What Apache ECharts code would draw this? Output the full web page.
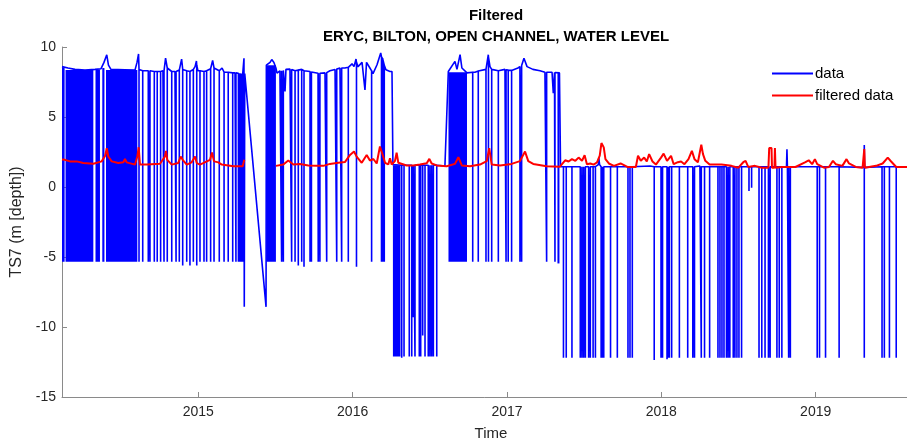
<!DOCTYPE html>
<html>
<head>
<meta charset="utf-8">
<script src="https://cdn.jsdelivr.net/npm/echarts@6/dist/echarts.min.js"></script>
<style>
  html, body { margin: 0; padding: 0; background: #fff; overflow: hidden; }
  #chart { width: 907px; height: 443px; }
</style>
</head>
<body>
<div id="chart"></div>
<script>
// Time is stored as decimal years.
const yearTicks = [2015, 2016, 2017, 2018, 2019];

// "data" series: the recorded water level (piecewise path between readings)
const levelT = [
  2014.117, 2014.156, 2014.201, 2014.266, 2014.331, 2014.370, 2014.389, 2014.407, 2014.418, 2014.434,
  2014.525, 2014.590, 2014.603, 2014.613, 2014.622, 2014.655, 2014.719, 2014.771, 2014.788, 2014.800,
  2014.849, 2014.881, 2014.892, 2014.904, 2014.946, 2014.979, 2014.988, 2014.998, 2015.043, 2015.082,
  2015.093, 2015.105, 2015.141, 2015.154, 2015.173, 2015.238, 2015.290, 2015.296, 2015.298, 2015.301,
  2015.439, 2015.441, 2015.465, 2015.476, 2015.490, 2015.503, 2015.510, 2015.529, 2015.555, 2015.562,
  2015.568, 2015.594, 2015.627, 2015.659, 2015.691, 2015.724, 2015.776, 2015.821, 2015.853, 2015.886,
  2015.918, 2015.950, 2015.983, 2015.996, 2016.009, 2016.022, 2016.035, 2016.061, 2016.080, 2016.090,
  2016.112, 2016.132, 2016.158, 2016.182, 2016.197, 2016.216, 2016.242, 2016.255, 2016.261, 2016.436,
  2016.598, 2016.620, 2016.663, 2016.676, 2016.696, 2016.708, 2016.741, 2016.793, 2016.825, 2016.864,
  2016.879, 2016.890, 2016.909, 2016.955, 2016.987, 2017.019, 2017.071, 2017.097, 2017.110, 2017.130,
  2017.168, 2017.214, 2017.246, 2017.292, 2017.300, 2017.308, 2017.340, 2017.347, 2017.592, 2017.595,
  2017.600, 2017.927, 2018.250, 2018.811, 2018.814, 2018.817, 2019.313, 2019.315, 2019.317, 2019.592
];
const levelV = [
  8.6, 8.5, 8.4, 8.35, 8.4, 8.45, 8.9, 9.44, 8.7, 8.4,
  8.38, 8.35, 8.9, 9.5, 8.5, 8.3, 8.25, 8.3, 9.2, 8.5,
  8.25, 8.4, 9.14, 8.4, 8.25, 8.6, 9.0, 8.3, 8.25, 8.5,
  9.04, 8.4, 8.3, 8.5, 8.2, 8.15, 8.1, 9.2, -8.56, 8.1,
  -8.56, 8.7, 8.9, 9.1, 8.9, 8.5, 8.13, 8.3, 8.35, 6.82,
  8.4, 8.42, 8.3, 8.4, 8.3, 8.25, 8.13, 8.15, 8.3, 8.4,
  8.5, 8.5, 8.6, 8.8, 8.6, 9.14, 8.6, 8.9, 6.94, 8.9,
  8.5, 8.1, 8.73, 9.57, 9.1, 8.37, 8.25, 8.25, 1.6, 1.55,
  1.5, 8.25, 8.97, 8.4, 9.45, 8.5, 8.15, 8.2, 8.3, 8.4,
  9.45, 8.6, 8.3, 8.3, 8.4, 8.3, 8.5, 8.7, 9.2, 8.6,
  8.4, 8.3, 8.2, 8.2, 6.7, 8.18, 8.15, 1.45, 1.6, 2.1,
  1.6, 1.5, 1.5, 1.45, 2.7, 1.45, 1.4, 3.0, 1.4, 1.45
];

// Single-sample drop-outs in the record: time, lowest reading, level around it
const dropT = [
  2014.616, 2014.640, 2014.676, 2014.687, 2014.715, 2014.734, 2014.756, 2014.778, 2014.799, 2014.828,
  2014.856, 2014.877, 2014.899, 2014.925, 2014.946, 2014.968, 2014.990, 2015.011, 2015.037, 2015.054,
  2015.080, 2015.102, 2015.136, 2015.167, 2015.194, 2015.223, 2015.244, 2015.260, 2015.270, 2015.280,
  2015.288,
  2015.540, 2015.551, 2015.605, 2015.627, 2015.648, 2015.670, 2015.685, 2015.724, 2015.733, 2015.777,
  2015.788, 2015.832, 2015.897, 2015.929, 2015.972, 2016.025, 2016.123, 2016.187, 2016.195, 2016.205,
  2016.318, 2016.333, 2016.367, 2016.383, 2016.393, 2016.404, 2016.432, 2016.441, 2016.454, 2016.469,
  2016.490, 2016.501, 2016.512, 2016.523, 2016.545,
  2016.778, 2016.814, 2016.864, 2016.880, 2016.901, 2016.944, 2016.994, 2017.008, 2017.030, 2017.084,
  2017.095, 2017.257, 2017.311,
  2017.366, 2017.384, 2017.421, 2017.475, 2017.486, 2017.497, 2017.508, 2017.529, 2017.540, 2017.558,
  2017.573, 2017.610, 2017.617, 2017.627, 2017.671, 2017.715, 2017.784, 2017.797, 2017.812, 2017.954,
  2017.998, 2018.008, 2018.037, 2018.044, 2018.052, 2018.067, 2018.117, 2018.171, 2018.204, 2018.215,
  2018.259, 2018.280, 2018.313, 2018.367, 2018.380, 2018.393, 2018.406, 2018.422, 2018.433, 2018.444,
  2018.466, 2018.477, 2018.490, 2018.503, 2018.520, 2018.568, 2018.585, 2018.633, 2018.651, 2018.672,
  2018.694, 2018.705, 2018.749, 2018.764, 2018.781, 2018.825, 2018.836, 2019.010, 2019.025, 2019.064,
  2019.152, 2019.315, 2019.430, 2019.445, 2019.478, 2019.522
];
const dropLow = [
  -5.34, -5.34, -5.34, -5.34, -5.34, -5.34, -5.34, -5.34, -5.34, -5.34,
  -5.34, -5.34, -5.6, -5.34, -5.6, -5.34, -5.6, -5.34, -5.34, -5.34,
  -5.34, -5.34, -5.34, -5.34, -5.34, -5.34, -5.34, -5.34, -5.34, -5.34,
  -5.34,
  -5.34, -5.34, -5.34, -5.34, -5.6, -5.34, -5.7, -5.34, -5.34, -5.34,
  -5.34, -5.34, -5.34, -5.34, -5.34, -5.7, -5.34, -5.34, -5.34, -5.34,
  -12.2, -12.1, -12.1, -12.1, -9.3, -12.1, -12.1, -12.1, -10.6, -12.1,
  -12.1, -12.1, -12.1, -12.1, -12.1,
  -5.34, -5.34, -5.34, -5.34, -5.34, -5.34, -5.34, -5.34, -5.34, -5.34,
  -5.34, -5.34, -5.34,
  -12.2, -12.2, -12.2, -12.2, -12.2, -12.2, -12.2, -12.2, -12.2, -12.2,
  -12.2, -12.2, -12.2, -12.2, -12.2, -12.2, -12.2, -12.2, -12.2, -12.35,
  -12.2, -12.2, -12.3, -12.2, -12.2, -12.2, -12.2, -12.2, -12.2, -12.2,
  -12.2, -12.2, -12.2, -12.2, -12.2, -12.2, -12.2, -12.2, -12.2, -12.2,
  -12.2, -12.2, -12.2, -12.2, -12.2, -0.28, -0.05, -12.2, -12.2, -12.2,
  -12.2, -12.2, -12.2, -12.2, -12.2, -12.2, -12.2, -12.2, -12.2, -12.2,
  -12.2, -12.2, -12.2, -12.2, -12.2, -12.2
];
const dropTop = [
  8.4, 8.3, 8.3, 8.3, 8.25, 8.25, 8.25, 8.3, 8.5, 8.25,
  8.25, 8.35, 8.4, 8.3, 8.25, 8.4, 8.7, 8.3, 8.25, 8.3,
  8.45, 8.5, 8.3, 8.2, 8.2, 8.15, 8.15, 8.13, 8.12, 8.1,
  8.1,
  8.3, 8.33, 8.4, 8.3, 8.35, 8.4, 8.3, 8.25, 8.22, 8.13,
  8.13, 8.17, 8.42, 8.5, 8.55, 8.9, 8.3, 9.3, 9.15, 8.7,
  1.55, 1.55, 1.55, 1.55, 1.55, 1.55, 1.55, 1.55, 1.55, 1.55,
  1.55, 1.55, 1.55, 1.55, 1.55,
  8.2, 8.28, 8.4, 9.3, 8.4, 8.3, 8.38, 8.35, 8.33, 8.6,
  8.68, 8.2, 8.18,
  1.45, 1.45, 1.45, 1.45, 1.45, 1.45, 1.45, 1.45, 1.45, 1.45,
  1.45, 1.45, 1.45, 1.45, 1.45, 1.45, 1.45, 1.45, 1.45, 1.45,
  1.45, 1.45, 1.45, 1.45, 1.45, 1.45, 1.45, 1.45, 1.45, 1.45,
  1.45, 1.45, 1.45, 1.45, 1.45, 1.45, 1.45, 1.45, 1.45, 1.45,
  1.45, 1.45, 1.45, 1.45, 1.45, 1.45, 1.45, 1.45, 1.45, 1.45,
  1.45, 1.45, 1.45, 1.45, 1.45, 1.45, 1.45, 1.45, 1.45, 1.45,
  1.45, 3.0, 1.45, 1.45, 1.45, 1.45
];

// Periods where the reading flips continuously between level and drop-out
const burstStart = [2014.117, 2014.140, 2014.334, 2014.378, 2014.402, 2015.441, 2016.261, 2016.621, 2017.327];
const burstEnd   = [2014.134, 2014.320, 2014.363, 2014.392, 2014.605, 2015.503, 2016.310, 2016.741, 2017.340];
const burstTop   = [8.55, 8.35, 8.4, 8.5, 8.35, 8.7, 1.55, 8.2, 8.15];
const burstLow   = [-5.34, -5.34, -5.34, -5.34, -5.34, -5.34, -12.1, -5.34, -5.46];

// "filtered data" series (null marks the gap in the record)
const filtT = [
  2014.117, 2014.136, 2014.169, 2014.212, 2014.255, 2014.320, 2014.374, 2014.396, 2014.407, 2014.417,
  2014.439, 2014.482, 2014.514, 2014.525, 2014.536, 2014.590, 2014.605, 2014.614, 2014.622, 2014.666,
  2014.752, 2014.784, 2014.791, 2014.799, 2014.828, 2014.870, 2014.886, 2014.899, 2014.925, 2014.957,
  2014.979, 2014.990, 2015.011, 2015.076, 2015.089, 2015.102, 2015.130, 2015.152, 2015.227, 2015.288,
  2015.298, 2015.400,
  2015.503, 2015.551, 2015.583, 2015.616, 2015.659, 2015.713, 2015.767, 2015.810, 2015.853, 2015.907,
  2015.950, 2015.983, 2016.009, 2016.026, 2016.059, 2016.091, 2016.112, 2016.134, 2016.156, 2016.177,
  2016.195, 2016.210, 2016.231, 2016.242, 2016.253, 2016.274, 2016.285, 2016.296, 2016.307, 2016.350,
  2016.393, 2016.436, 2016.480, 2016.497, 2016.512, 2016.545, 2016.609, 2016.663, 2016.685, 2016.696,
  2016.707, 2016.760, 2016.825, 2016.869, 2016.885, 2016.901, 2016.955, 2017.030, 2017.084, 2017.117,
  2017.138, 2017.170, 2017.257, 2017.343, 2017.377, 2017.399, 2017.421, 2017.443, 2017.464, 2017.486,
  2017.503, 2017.518, 2017.540, 2017.562, 2017.584, 2017.601, 2017.612, 2017.627, 2017.638, 2017.660,
  2017.693, 2017.736, 2017.780, 2017.835, 2017.849, 2017.867, 2017.889, 2017.906, 2017.921, 2017.943,
  2017.965, 2017.998, 2018.015, 2018.037, 2018.063, 2018.080, 2018.107, 2018.128, 2018.150, 2018.176,
  2018.198, 2018.215, 2018.237, 2018.259, 2018.270, 2018.285, 2018.313, 2018.390, 2018.455, 2018.499,
  2018.531, 2018.546, 2018.563, 2018.607, 2018.651, 2018.694, 2018.699, 2018.714, 2018.717, 2018.733,
  2018.736, 2018.740, 2018.781, 2018.869, 2018.934, 2018.955, 2018.977, 2018.995, 2019.010, 2019.054,
  2019.086, 2019.112, 2019.130, 2019.173, 2019.200, 2019.216, 2019.260, 2019.304, 2019.315, 2019.319,
  2019.391, 2019.434, 2019.467, 2019.489, 2019.522, 2019.592
];
const filtV = [
  1.97, 1.94, 1.83, 1.83, 1.71, 1.66, 1.83, 2.22, 2.77, 2.18,
  1.83, 1.71, 1.76, 2.0, 1.76, 1.6, 2.18, 2.84, 1.6, 1.6,
  1.66, 2.18, 2.58, 1.94, 1.6, 1.71, 2.18, 1.94, 1.6, 1.76,
  2.18, 1.71, 1.6, 1.94, 2.46, 1.83, 1.76, 1.6, 1.49, 1.49,
  1.94, null,
  1.51, 1.61, 1.89, 1.61, 1.65, 1.54, 1.51, 1.51, 1.65, 1.73,
  1.78, 2.29, 2.53, 2.17, 1.73, 2.29, 1.89, 2.0, 1.68, 2.89,
  2.29, 1.73, 1.61, 2.05, 1.6, 1.85, 2.45, 1.73, 1.61, 1.54,
  1.54, 1.6, 1.7, 2.01, 1.68, 1.54, 1.48, 1.65, 2.13, 2.25,
  1.54, 1.48, 1.6, 1.85, 2.77, 1.6, 1.54, 1.65, 1.85, 2.53,
  1.85, 1.65, 1.48, 1.45, 1.91, 1.82, 1.99, 1.87, 2.1, 1.87,
  2.27, 1.63, 1.68, 1.6, 1.77, 2.24, 3.14, 2.83, 1.99, 1.68,
  1.51, 1.68, 1.43, 1.43, 2.23, 1.87, 2.1, 1.82, 2.35, 1.82,
  1.6, 2.1, 2.38, 1.87, 2.23, 1.63, 1.77, 1.82, 1.63, 1.99,
  2.58, 1.99, 1.77, 3.02, 2.35, 1.87, 1.6, 1.6, 1.51, 1.38,
  1.77, 1.87, 1.43, 1.51, 1.38, 1.38, 2.78, 2.78, 1.38, 1.38,
  2.78, 1.38, 1.43, 1.43, 1.77, 1.91, 1.63, 1.99, 1.63, 1.38,
  1.43, 1.87, 1.63, 1.51, 1.99, 1.68, 1.43, 1.38, 2.71, 1.38,
  1.51, 1.68, 2.1, 1.82, 1.43, 1.43
];

// Build the raw-data line: level path plus a vertical excursion for each drop-out
const rawPoints = [];
levelT.forEach((t, i) => rawPoints.push([t, levelV[i]]));
dropT.forEach((t, i) => {
  rawPoints.push([t, dropTop[i]], [t, dropLow[i]], [t, dropTop[i]]);
});
rawPoints.sort((a, b) => a[0] - b[0]);

const burstData = burstStart.map((t, i) => [t, burstEnd[i], burstTop[i], burstLow[i]]);
const filtData = filtT.map((t, i) => [t, filtV[i]]);

const FONT = '"Liberation Sans", Arial, Helvetica, sans-serif';
const BLUE = '#0000ff';
const RED = '#ff0000';
const chart = echarts.init(document.getElementById('chart'), null, { renderer: 'canvas' });

chart.setOption({
  animation: false,
  backgroundColor: '#ffffff',
  title: {
    text: 'Filtered',
    subtext: 'ERYC, BILTON, OPEN CHANNEL, WATER LEVEL',
    left: 491,
    textAlign: 'center',
    top: 3,
    itemGap: 6,
    textStyle: { fontFamily: FONT, fontSize: 15, fontWeight: 'bold', color: '#000' },
    subtextStyle: { fontFamily: FONT, fontSize: 15, fontWeight: 'bold', color: '#000' }
  },
  legend: {
    orient: 'vertical',
    left: 767,
    top: 60,
    itemWidth: 41,
    itemHeight: 2,
    itemGap: 5,
    icon: 'rect',
    data: [
      { name: 'data', itemStyle: { color: BLUE } },
      { name: 'filtered data', itemStyle: { color: RED } }
    ],
    textStyle: { fontFamily: FONT, fontSize: 15, color: '#000', padding: [0, 0, 0, -3], lineHeight: 17 }
  },
  // the axes box runs a little past the right edge of the page
  grid: { left: 62, right: -13, top: 47, bottom: 46, containLabel: false, outerBoundsMode: 'none' },
  xAxis: {
    type: 'value',
    min: 2014.117,
    max: 2019.676,
    name: 'Time',
    nameLocation: 'middle',
    nameGap: 29,
    nameTextStyle: { fontFamily: FONT, fontSize: 15, color: '#262626' },
    axisLine: { show: true, onZero: false, lineStyle: { color: '#8a8a8a', width: 1 } },
    axisTick: { show: true, inside: true, length: 5, customValues: yearTicks, lineStyle: { color: '#8a8a8a' } },
    axisLabel: {
      customValues: yearTicks,
      formatter: v => String(Math.round(v)),
      fontFamily: FONT, fontSize: 14, color: '#262626', margin: 8
    },
    splitLine: { show: false }
  },
  yAxis: {
    type: 'value',
    min: -15,
    max: 10,
    interval: 5,
    name: 'TS7 (m [depth])',
    nameLocation: 'middle',
    nameGap: 34,
    nameTextStyle: { fontFamily: FONT, fontSize: 16, color: '#262626' },
    axisLine: { show: true, lineStyle: { color: '#8a8a8a', width: 1 } },
    axisTick: { show: true, inside: true, length: 5, lineStyle: { color: '#8a8a8a' } },
    axisLabel: { fontFamily: FONT, fontSize: 14, color: '#262626', margin: 6 },
    splitLine: { show: false }
  },
  series: [
    {
      name: 'data bursts',
      type: 'custom',
      z: 2,
      clip: true,
      silent: true,
      encode: { x: [0, 1], y: [2, 3] },
      data: burstData,
      renderItem: function (params, api) {
        const p0 = api.coord([api.value(0), api.value(2)]);
        const p1 = api.coord([api.value(1), api.value(3)]);
        return {
          type: 'rect',
          shape: { x: p0[0], y: p0[1], width: Math.max(p1[0] - p0[0], 1), height: p1[1] - p0[1] },
          style: { fill: BLUE }
        };
      },
      itemStyle: { color: BLUE }
    },
    {
      name: 'data',
      type: 'line',
      z: 3,
      data: rawPoints,
      symbol: 'none',
      showSymbol: false,
      sampling: null,
      lineStyle: { color: BLUE, width: 1.6 },
      itemStyle: { color: BLUE }
    },
    {
      name: 'filtered data',
      type: 'line',
      z: 4,
      data: filtData,
      symbol: 'none',
      showSymbol: false,
      connectNulls: false,
      lineStyle: { color: RED, width: 2 },
      itemStyle: { color: RED }
    }
  ]
});
</script>
</body>
</html>
